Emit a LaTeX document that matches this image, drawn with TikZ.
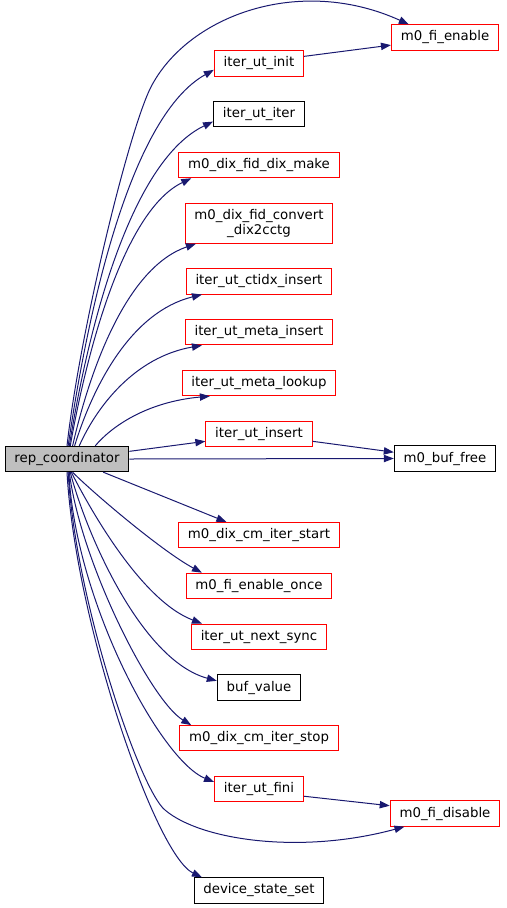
\documentclass[tikz,border=0pt]{standalone}
\usepackage{fontspec}
\setmainfont{DejaVu Sans}
\usetikzlibrary{positioning,arrows.meta}
\definecolor{edgeblue}{HTML}{191970}
\definecolor{rootgrey}{HTML}{BFBFBF}

\begin{document}
\begin{tikzpicture}[x=0.75pt, y=-0.75pt, node distance=18.35pt,
  every node/.style={font=\fontsize{10}{11.5}\selectfont, inner xsep=7pt, inner ysep=3pt, minimum height=19pt, align=center, line width=0.75pt},
  redbox/.style={rectangle, draw=red, fill=white},
  blackbox/.style={rectangle, draw=black, fill=white},
  rootbox/.style={rectangle, draw=black, fill=rootgrey},
  call/.style={draw=edgeblue, line width=0.75pt, -{Triangle[length=7.5pt,width=5.5pt]}}]

\useasboundingbox (0,0) rectangle (507,908);

\node[rootbox] (root) at (67,459) {rep\_coordinator};
\node[redbox] (enable) at (445,37.5) {m0\_fi\_enable};
\node[redbox] (init) at (259,63.5) {iter\_ut\_init};
\node[blackbox,below=of init] (iter) {iter\_ut\_iter};
\node[redbox,below=of iter] (make) {m0\_dix\_fid\_dix\_make};
\node[redbox,below=of make,minimum height=30pt] (convert) {m0\_dix\_fid\_convert\\\_dix2cctg};
\node[redbox,below=of convert] (ctidx) {iter\_ut\_ctidx\_insert};
\node[redbox,below=of ctidx] (metains) {iter\_ut\_meta\_insert};
\node[redbox,below=of metains] (lookup) {iter\_ut\_meta\_lookup};
\node[redbox,below=of lookup] (insert) {iter\_ut\_insert};
\node[blackbox] (buffree) at (445,458.5) {m0\_buf\_free};
\node[redbox,below=56.25pt of insert] (start) {m0\_dix\_cm\_iter\_start};
\node[redbox,below=of start] (once) {m0\_fi\_enable\_once};
\node[redbox,below=of once] (sync) {iter\_ut\_next\_sync};
\node[blackbox,below=of sync] (bufval) {buf\_value};
\node[redbox,below=of bufval] (stop) {m0\_dix\_cm\_iter\_stop};
\node[redbox,below=of stop] (fini) {iter\_ut\_fini};
\node[redbox] (disable) at (445,813.5) {m0\_fi\_disable};
\node[blackbox,below=56.25pt of fini] (devset) {device\_state\_set};

% calls going up
\draw[call] (root.90) .. controls (80,330) and (130,125) .. (152,85) .. controls (190,15) and (300,-25) .. (enable.160);
\draw[call] (root.85) .. controls (90,296) and (133,115) .. (init.188);
\draw[call] (root.80) .. controls (90,317) and (133,160) .. (iter.189);
\draw[call] (root.76) .. controls (89,339) and (127,209) .. (make.191);
\draw[call] (root.67) .. controls (91,365) and (128,267) .. (convert.198);
\draw[call] (root.60) .. controls (93,386) and (131,312) .. (ctidx.193);
\draw[call] (root.47) .. controls (97,406) and (135,357) .. (metains.193);
\draw[call] (root.25) .. controls (111,427) and (146,402) .. (lookup.195);

% straight ones
\draw[call] (root.7) -- (insert.188);
\draw[call] (root.east) -- (buffree.west);
\draw[call] (init.9) -- (enable.188);
\draw[call] (insert.352) -- (buffree.173);
\draw[call] (root.340) -- (start.158);
\draw[call] (fini.351) -- (disable.172);

% calls going down
\draw[call] (root.293) .. controls (90,490) and (160,550) .. (once.167);
\draw[call] (root.288) .. controls (88,505) and (140,600) .. (sync.167);
\draw[call] (root.284) .. controls (85,530) and (140,660) .. (bufval.171);
\draw[call] (root.280) .. controls (80,560) and (150,700) .. (stop.169);
\draw[call] (root.278) .. controls (75,600) and (160,760) .. (fini.171);
\draw[call] (root.275) .. controls (75,600) and (140,790) .. (165,810) .. controls (200,840) and (300,855) .. (disable.198);
\draw[call] (root.270) .. controls (75,620) and (155,855) .. (devset.167);

\end{tikzpicture}
\end{document}
